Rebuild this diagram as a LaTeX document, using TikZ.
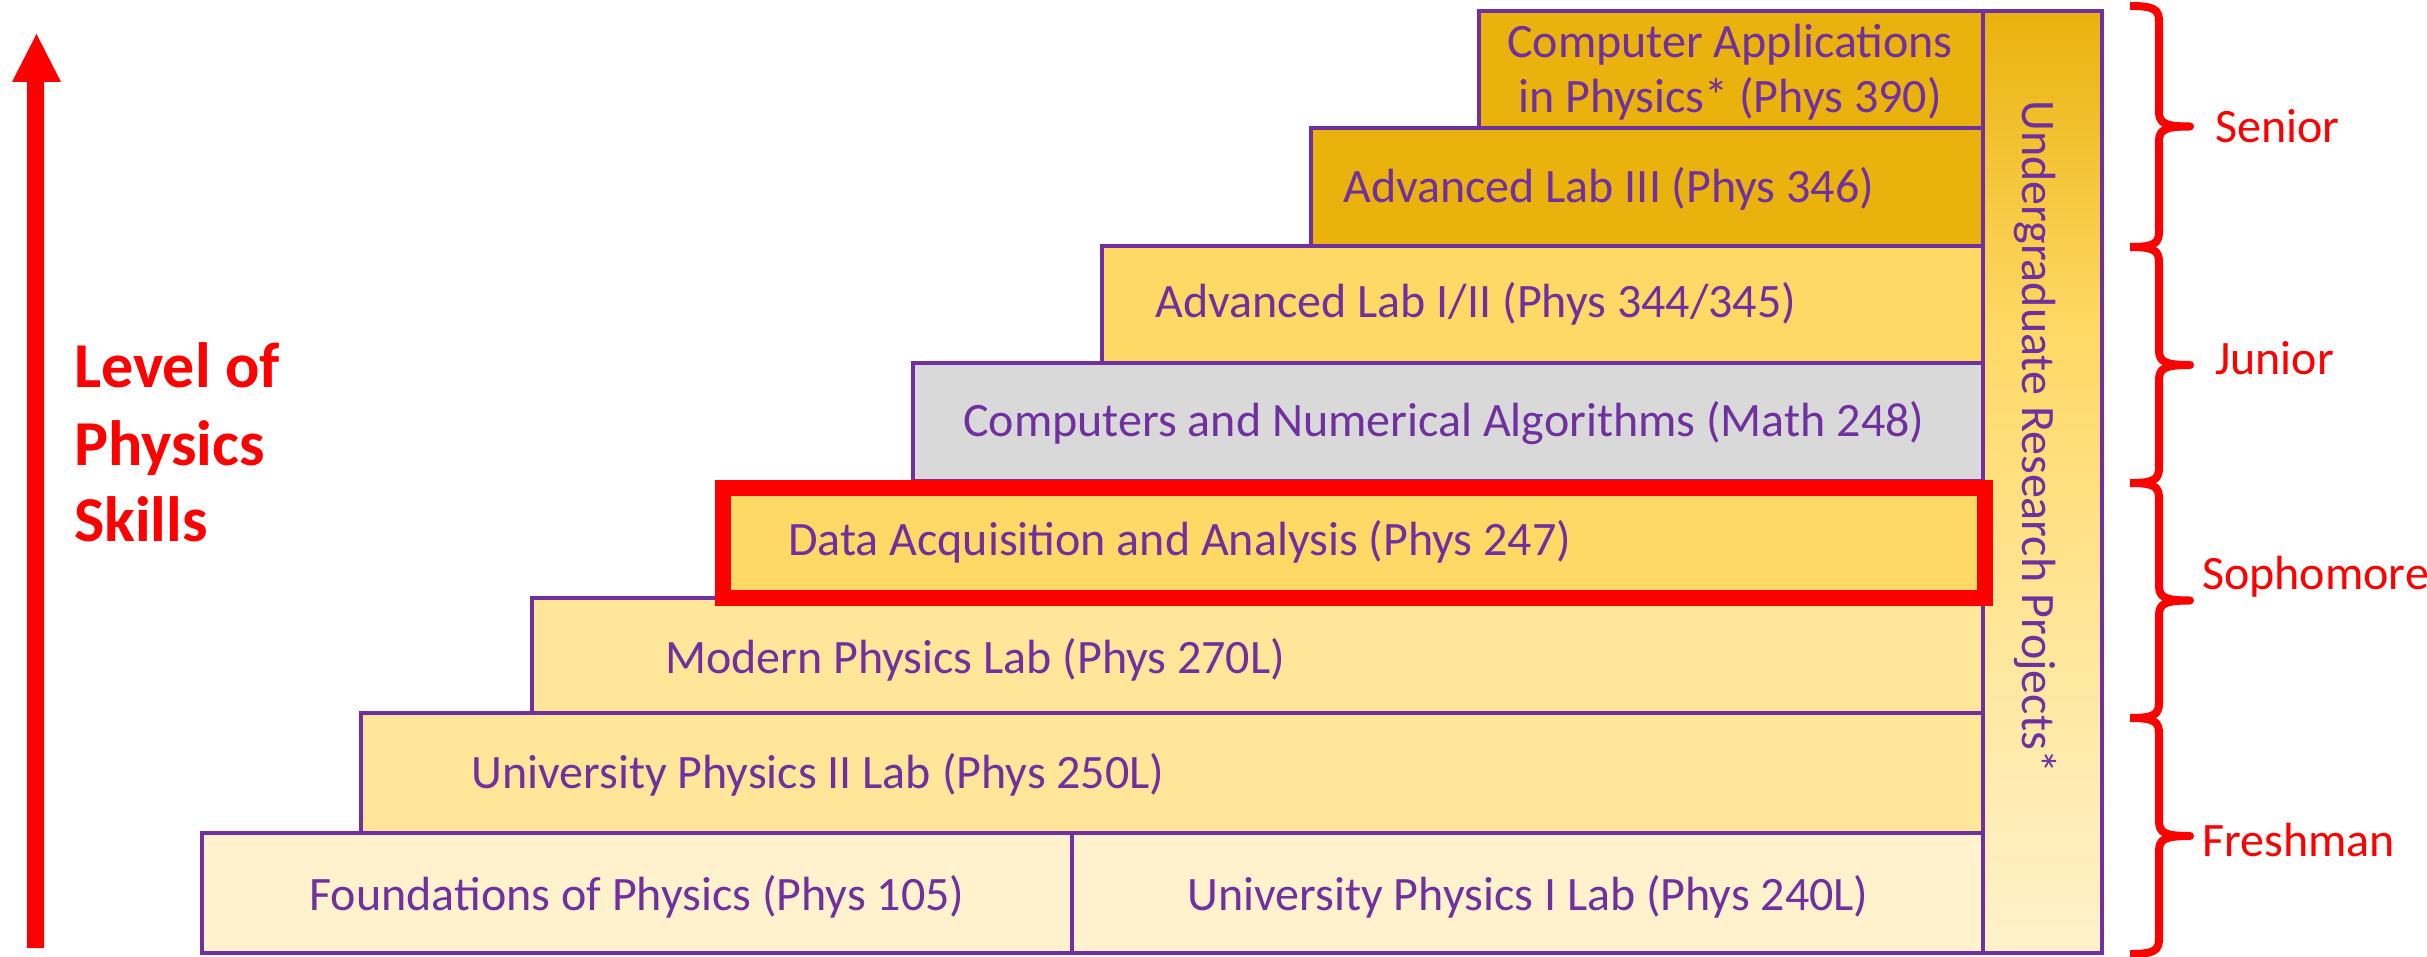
\documentclass[tikz,border=0pt]{standalone}
\usepackage{fontspec}
\setmainfont{Carlito}
\definecolor{purp}{HTML}{7030A0}
\definecolor{cream}{HTML}{FFF2CC}
\definecolor{lightgold}{HTML}{FFE699}
\definecolor{midgold}{HTML}{FFD966}
\definecolor{darkgold}{HTML}{E9B20D}
\definecolor{grayfill}{HTML}{D9D9D9}
\definecolor{redc}{HTML}{FF0000}
\pgfdeclareverticalshading{urpshade}{100bp}{color(0bp)=(cream); color(25bp)=(cream); color(42bp)=(lightgold); color(58bp)=(midgold); color(75bp)=(darkgold); color(100bp)=(darkgold)}
\begin{document}
\begin{tikzpicture}[x=1pt,y=-1pt,
  box/.style={draw=purp, line width=4.5pt, rectangle, inner sep=0pt, outer sep=0pt, anchor=north west},
  lbl/.style={text=purp, font=\fontsize{48}{55}\selectfont, inner sep=0pt},
  yr/.style={text=redc, font=\fontsize{48}{55}\selectfont, inner sep=0pt, anchor=base west},
  skill/.style={text=redc, font=\fontsize{64}{77}\selectfont\bfseries, inner sep=0pt, anchor=base west},
  brc/.style={draw=redc, line width=8pt, line join=round}]
\useasboundingbox (0,0) rectangle (2427,957);

% research column
\node[box, shade, shading=urpshade,
      minimum width=119pt, minimum height=942pt] (urpbox) at (1983,11) {};
\node[lbl, rotate=-90] (urp) at (2035,437) {Undergraduate Research Projects*};

% steps
\node[box, fill=darkgold, minimum width=504pt, minimum height=117pt] (cabox) at (1479,11) {};
\node[box, fill=darkgold, minimum width=672pt, minimum height=118pt] (a3box) at (1311,128) {};
\node[box, fill=midgold, minimum width=881pt, minimum height=117pt] (a12box) at (1102,246) {};
\node[box, fill=grayfill, minimum width=1070pt, minimum height=118pt] (cnbox) at (913,363) {};
\node[box, fill=lightgold, minimum width=1451pt, minimum height=115pt] (mpbox) at (532,598) {};
\node[box, fill=lightgold, minimum width=1622pt, minimum height=120pt] (u2box) at (361,713) {};
\node[box, fill=cream, minimum width=870pt, minimum height=120pt] (fbox) at (202,833) {};
\node[box, fill=cream, minimum width=911pt, minimum height=120pt] (u1box) at (1072,833) {};
\node[box, draw=redc, line width=16pt, fill=midgold, minimum width=1262pt, minimum height=110pt] (dabox) at (723,488) {};

% labels
\node[lbl, anchor=base] (ca1) at (1730,58) {Computer Applications};
\node[lbl, anchor=base] (ca2) at (1730,113) {in Physics* (Phys 390)};
\node[lbl, anchor=base west] (a3) at (1343,203) {Advanced Lab III (Phys 346)};
\node[lbl, anchor=base west] (a12) at (1155,318) {Advanced Lab I/II (Phys 344/345)};
\node[lbl, anchor=base west] (cn) at (963,436) {Computers and Numerical Algorithms (Math 248)};
\node[lbl, anchor=base west] (da) at (788,555) {Data Acquisition and Analysis (Phys 247)};
\node[lbl, anchor=base west] (mp) at (665,673) {Modern Physics Lab (Phys 270L)};
\node[lbl, anchor=base west] (u2) at (471,788) {University Physics II Lab (Phys 250L)};
\node[lbl, anchor=base] (f) at (637,910) {Foundations of Physics (Phys 105)};
\node[lbl, anchor=base] (u1) at (1528,910) {University Physics I Lab (Phys 240L)};

% braces
\foreach \a/\b in {6/247, 247/483, 483/718, 718/954} {
  \pgfmathsetmacro\m{(\a+\b)/2}
  \draw[brc] (2130,\a) .. controls (2153,\a) and (2159,\a+3) .. (2159,\a+15)
     -- (2159,\m-15) .. controls (2159,\m-3) and (2165,\m) .. (2190,\m)
     .. controls (2165,\m) and (2159,\m+3) .. (2159,\m+15)
     -- (2159,\b-15) .. controls (2159,\b-3) and (2153,\b) .. (2130,\b);
}
\node[yr] (sen) at (2215,143) {Senior};
\node[yr] (jun) at (2215,374) {Junior};
\node[yr] (sop) at (2202,589) {Sophomore};
\node[yr] (fre) at (2202,856) {Freshman};

% arrow
\fill[redc] (27,948) -- (27,82) -- (12,82) -- (36.5,34) -- (61,82) -- (44,82) -- (44,948) -- cycle;
\node[skill] (lv1) at (74,387) {Level of};
\node[skill] (lv2) at (74,465) {Physics};
\node[skill] (lv3) at (74,541) {Skills};
\end{tikzpicture}
\end{document}
